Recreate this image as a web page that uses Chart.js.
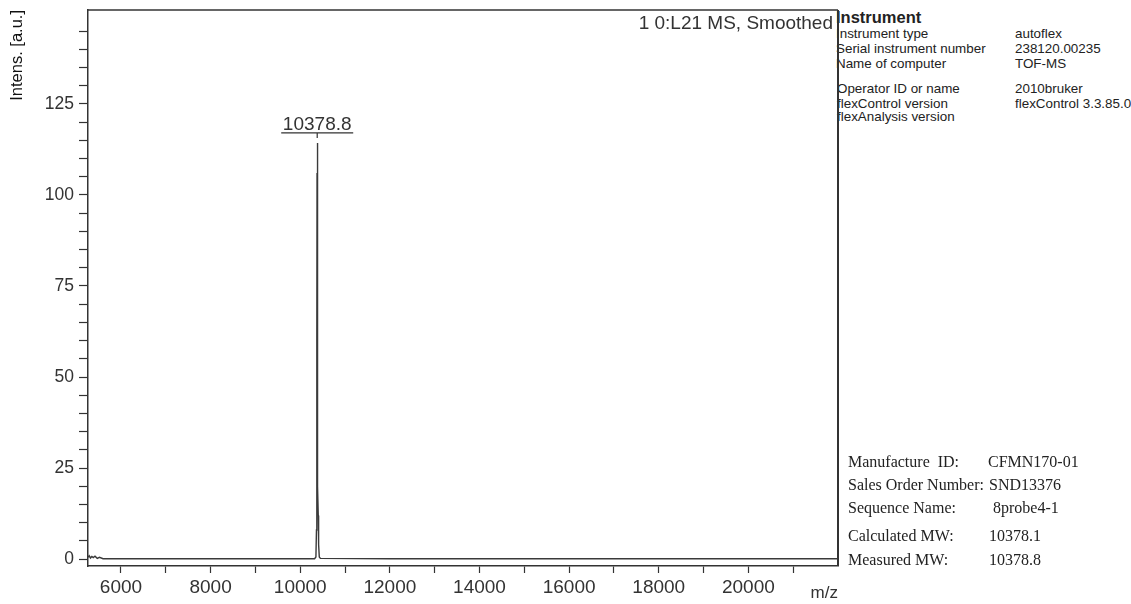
<!DOCTYPE html>
<html>
<head>
<meta charset="utf-8">
<script src="https://cdn.jsdelivr.net/npm/chart.js@4.4.0/dist/chart.umd.min.js"></script>
<style>
  body { margin: 0; background: #fff; }
  #wrap { position: relative; width: 1131px; height: 604px; overflow: hidden; }
  #specChart { position: absolute; left: 0; top: 0; z-index: 1; }
  .info { position: absolute; z-index: 0; font-family: Arial, "Liberation Sans", sans-serif; color: #222; white-space: nowrap; }
  .info .row { position: absolute; font-size: 13.4px; line-height: 14px; }
  .sample { position: absolute; z-index: 2; font-family: "Times New Roman", "Liberation Serif", serif; font-size: 16px; color: #222; white-space: nowrap; }
  .sample .row { position: absolute; line-height: 18px; }
</style>
</head>
<body>
<div id="wrap">
  <canvas id="specChart" width="1131" height="604"></canvas>

  <div class="info" style="left:0;top:0;">
    <div class="row" style="left:836px;top:8px;font-size:16.5px;font-weight:bold;line-height:18px;">Instrument</div>
    <div class="row" style="left:836px;top:27px;">Instrument type</div>
    <div class="row" style="left:1015px;top:27px;">autoflex</div>
    <div class="row" style="left:836px;top:42px;">Serial instrument number</div>
    <div class="row" style="left:1015px;top:42px;">238120.00235</div>
    <div class="row" style="left:836px;top:57px;">Name of computer</div>
    <div class="row" style="left:1015px;top:57px;">TOF-MS</div>
    <div class="row" style="left:837px;top:82px;">Operator ID or name</div>
    <div class="row" style="left:1015px;top:82px;">2010bruker</div>
    <div class="row" style="left:837px;top:97px;">flexControl version</div>
    <div class="row" style="left:1015px;top:97px;">flexControl 3.3.85.0</div>
    <div class="row" style="left:837px;top:110px;">flexAnalysis version</div>
  </div>

  <div class="sample" style="left:0;top:0;">
    <div class="row" style="left:848px;top:453px;">Manufacture&nbsp; ID:</div>
    <div class="row" style="left:988px;top:453px;">CFMN170-01</div>
    <div class="row" style="left:848px;top:476px;">Sales Order Number:</div>
    <div class="row" style="left:989px;top:476px;">SND13376</div>
    <div class="row" style="left:848px;top:499px;">Sequence Name:</div>
    <div class="row" style="left:993px;top:499px;">8probe4-1</div>
    <div class="row" style="left:848px;top:527px;">Calculated MW:</div>
    <div class="row" style="left:989px;top:527px;">10378.1</div>
    <div class="row" style="left:848px;top:551px;">Measured MW:</div>
    <div class="row" style="left:989px;top:551px;">10378.8</div>
  </div>
</div>

<script>
// spectrum (m/z, intensity)
const mzValues = [5264, 5290, 5320, 5350, 5380, 5420, 5470, 5520, 5600, 6000, 8000, 10000, 10320,
  10350, 10362, 10370, 10375, 10378.8, 10383, 10388, 10395, 10402, 10410, 10425, 10450, 12000, 16000, 22000];
const intensities = [0.5, 0.9, 0.3, 0.7, 0.4, 0.8, 0.2, 0.5, 0.1, 0.1, 0.1, 0.1, 0.1,
  0.6, 8, 60, 106, 114.3, 96, 45, 20, 12, 4, 0.6, 0.2, 0.1, 0.1, 0.1];

const xTicks = [6000, 7000, 8000, 9000, 10000, 11000, 12000, 13000, 14000, 15000, 16000, 17000, 18000, 19000, 20000, 21000];
const xLabels = [6000, 8000, 10000, 12000, 14000, 16000, 18000, 20000];
const yTicks = [0, 5, 10, 15, 20, 25, 30, 35, 40, 45, 50, 55, 60, 65, 70, 75, 80, 85, 90, 95,
  100, 105, 110, 115, 120, 125, 130, 135, 140, 145];
const yLabels = [0, 25, 50, 75, 100, 125];

const peakLabels = [{ mz: 10378.8, intens: 114.3, text: '10378.8' }];
const spectrumTitle = '1 0:L21 MS, Smoothed';

const points = mzValues.map((m, i) => ({ x: m, y: intensities[i] }));

// frame, spectrum title and peak annotation
const decorations = {
  id: 'decorations',
  afterDraw(chart) {
    const { ctx, chartArea: a, scales: { x, y } } = chart;
    ctx.save();
    ctx.strokeStyle = '#333';
    ctx.lineWidth = 1.5;
    ctx.beginPath();
    ctx.moveTo(a.left, a.top);
    ctx.lineTo(a.right, a.top);
    ctx.stroke();
    ctx.lineWidth = 2;
    ctx.beginPath();
    ctx.moveTo(a.right, a.top);
    ctx.lineTo(a.right, a.bottom);
    ctx.stroke();

    ctx.fillStyle = '#333';
    ctx.font = '19px Arial, "Liberation Sans", sans-serif';
    ctx.textAlign = 'right';
    ctx.textBaseline = 'alphabetic';
    ctx.fillText(spectrumTitle, a.right - 5, 29);

    peakLabels.forEach(p => {
      const px = x.getPixelForValue(p.mz);
      const py = y.getPixelForValue(p.intens);
      ctx.textAlign = 'center';
      ctx.fillText(p.text, px, py - 13);
      ctx.lineWidth = 1.2;
      ctx.beginPath();
      ctx.moveTo(px - 36, py - 10);
      ctx.lineTo(px + 36, py - 10);
      ctx.moveTo(px, py - 10);
      ctx.lineTo(px, py - 5);
      ctx.stroke();
    });
    ctx.restore();
  }
};

const ctx = document.getElementById('specChart').getContext('2d');

new Chart(ctx, {
  type: 'line',
  data: {
    datasets: [{
      data: points,
      borderColor: '#3a3a3a',
      borderWidth: 1.4,
      pointRadius: 0,
      tension: 0,
      fill: false
    }]
  },
  options: {
    responsive: false,
    animation: false,
    events: [],
    layout: { padding: { left: 0, right: 293, top: 10, bottom: 0 } },
    plugins: { legend: { display: false }, tooltip: { enabled: false } },
    scales: {
      x: {
        type: 'linear',
        min: 5264,
        max: 22000,
        afterBuildTicks: s => { s.ticks = xTicks.map(v => ({ value: v })); },
        afterFit: s => { s.height = 38; s.paddingLeft = 0; s.paddingRight = 0; },
        grid: { drawOnChartArea: false, tickLength: 7, tickColor: '#333', tickWidth: 1.2 },
        border: { color: '#333', width: 1.5 },
        ticks: {
          autoSkip: false,
          maxRotation: 0,
          padding: 3,
          color: '#333',
          font: { family: 'Arial, "Liberation Sans", sans-serif', size: 19 },
          callback: v => xLabels.includes(v) ? String(v) : ''
        },
        title: {
          display: true,
          text: 'm/z',
          align: 'end',
          color: '#333',
          padding: { top: -4, bottom: 0 },
          font: { family: 'Arial, "Liberation Sans", sans-serif', size: 17 }
        }
      },
      y: {
        min: -1.9,
        max: 150.8,
        afterBuildTicks: s => { s.ticks = yTicks.map(v => ({ value: v })); },
        afterFit: s => { s.width = 88; s.paddingTop = 0; s.paddingBottom = 0; },
        grid: { drawOnChartArea: false, tickLength: 9, tickColor: '#333', tickWidth: 1.2 },
        border: { color: '#333', width: 1.5 },
        ticks: {
          autoSkip: false,
          padding: 5,
          color: '#333',
          font: { family: 'Arial, "Liberation Sans", sans-serif', size: 17.5 },
          callback: v => yLabels.includes(v) ? String(v) : ''
        },
        title: {
          display: true,
          text: 'Intens. [a.u.]',
          align: 'end',
          color: '#111',
          padding: { top: 8, bottom: 0 },
          font: { family: 'Arial, "Liberation Sans", sans-serif', size: 16.5 }
        }
      }
    }
  },
  plugins: [decorations]
});
</script>
</body>
</html>
